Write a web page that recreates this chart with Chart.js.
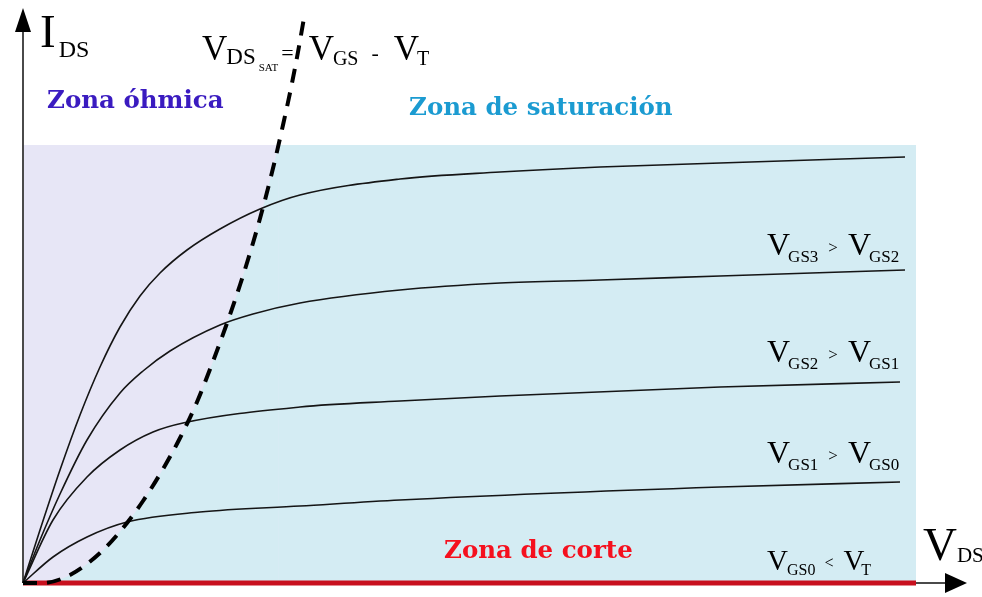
<!DOCTYPE html>
<html>
<head>
<meta charset="utf-8">
<script src="https://cdn.jsdelivr.net/npm/chart.js@4.4.1/dist/chart.umd.min.js"></script>
<style>
  html, body { margin: 0; padding: 0; background: #fff; }
</style>
</head>
<body>
<canvas id="chart" width="982" height="597"></canvas>
<script>
// Output characteristics of a MOSFET, I_DS vs V_DS (arbitrary units)
const curveVgs3 = [[0,0],[0.17,1.06],[0.37,2.26],[0.57,3.36],[0.77,4.32],[0.97,5.12],[1.17,5.74],[1.37,6.2],[1.64,6.66],[1.97,7.08],[2.37,7.48],[2.77,7.76],[3.77,8.08],[4.77,8.22],[5.77,8.32],[6.97,8.4],[8.82,8.52]];
const curveVgs2 = [[0,0],[0.17,0.86],[0.37,1.78],[0.64,2.86],[0.97,3.8],[1.2,4.24],[1.47,4.64],[1.97,5.16],[2.3,5.38],[2.77,5.6],[3.77,5.86],[4.77,6.0],[5.77,6.06],[6.97,6.14],[8.82,6.26]];
const curveVgs1 = [[0,0],[0.3,1.26],[0.64,2.12],[0.97,2.66],[1.3,3.02],[1.6,3.2],[2.77,3.52],[3.77,3.64],[4.77,3.74],[6.97,3.92],[8.77,4.02]];
const curveVgs0 = [[0,0],[0.3,0.52],[0.64,0.92],[1.04,1.22],[1.77,1.42],[2.77,1.54],[3.77,1.66],[6.97,1.92],[8.77,2.02]];
// V_DS,sat = V_GS - V_T boundary (dashed)
const satBoundary = [[0,0],[0.19,0],[0.47,0.16],[0.77,0.6],[1.0,1.1],[1.2,1.64],[1.4,2.28],[1.57,2.9],[1.74,3.62],[1.89,4.38],[2.03,5.14],[2.17,5.96],[2.3,6.8],[2.42,7.66],[2.52,8.46],[2.6,9.16],[2.68,9.9],[2.75,10.62],[2.82,11.42]];
// cut-off line (V_GS0 < V_T)
const cutoffLine = [[0,0],[8.93,0]];
// shaded zones
const zoneTop = 8.76;
const zoneRight = 8.93;
const ohmicRight = 2.555;

const xMax = 9.44;
const yMax = 11.5;

const pts = arr => arr.map(p => ({ x: p[0], y: p[1] }));

// part of the boundary below the top of the shaded area
const satFillPts = pts(satBoundary.filter(p => p[1] <= zoneTop)).concat([{ x: ohmicRight, y: zoneTop }]);

const curveStyle = {
    borderColor: "#151515",
    borderWidth: 1.6,
    pointRadius: 0,
    showLine: true,
    fill: false,
    cubicInterpolationMode: "monotone",
    clip: false,
    order: 2
};

const serif = "'Liberation Serif', 'Times New Roman', serif";
const zoneFont = "bold 24.5px 'DejaVu Serif', serif";

// draws a row of text pieces: [text, fontSize, dy, dx]
function drawRuns(ctx, x, y, parts) {
    let cx = x;
    parts.forEach(p => {
        ctx.font = p[1] + "px " + serif;
        cx += p[3] || 0;
        ctx.fillText(p[0], cx, y + (p[2] || 0));
        cx += ctx.measureText(p[0]).width;
    });
}

const axesPlugin = {
    id: "axes",
    beforeDatasetsDraw(chart) {
        const { ctx, chartArea: a } = chart;
        ctx.save();
        ctx.strokeStyle = "#4a4a4a";
        ctx.lineWidth = 2;
        ctx.beginPath();
        ctx.moveTo(a.left, a.bottom);
        ctx.lineTo(a.left, a.top + 20);
        ctx.moveTo(a.left, a.bottom);
        ctx.lineTo(a.right - 20, a.bottom);
        ctx.stroke();
        ctx.fillStyle = "#000";
        ctx.beginPath();
        ctx.moveTo(a.left, a.top);
        ctx.lineTo(a.left - 8, a.top + 24);
        ctx.lineTo(a.left + 8, a.top + 24);
        ctx.closePath();
        ctx.fill();
        ctx.beginPath();
        ctx.moveTo(a.right, a.bottom);
        ctx.lineTo(a.right - 22, a.bottom - 10);
        ctx.lineTo(a.right - 22, a.bottom + 10);
        ctx.closePath();
        ctx.fill();
        ctx.restore();
    },
    afterDraw(chart) {
        const { ctx } = chart;
        const sx = chart.scales.x, sy = chart.scales.y;
        const px = v => sx.getPixelForValue(v);
        const py = v => sy.getPixelForValue(v);
        ctx.save();
        ctx.textBaseline = "alphabetic";
        ctx.fillStyle = "#000";

        // axis titles
        drawRuns(ctx, px(0.17), py(10.72), [["I", 47], ["DS", 24, 10, 3]]);
        drawRuns(ctx, px(9.0), py(0.46), [["V", 47], ["DS", 21, 2, 0]]);

        // saturation boundary formula
        drawRuns(ctx, px(1.79), py(10.46), [
            ["V", 35], ["DS", 23, 4, -1], ["SAT", 11, 11, 3], ["=", 22, 0, 3],
            ["V", 35, 0, 15], ["GS", 20, 5, -1], ["-", 22, 0, 13], ["V", 35, 0, 15], ["T", 20, 5, -2]
        ]);

        // curve labels
        const lbl = (i, a, b, c) => drawRuns(ctx, px(7.44), py(i), [
            ["V", 32], [a, 17, 7, -2], [c, 17, -2, 10], ["V", 32, 0, 10], [b, 17, 7, -2]
        ]);
        lbl(6.56, "GS3", "GS2", ">");
        lbl(4.42, "GS2", "GS1", ">");
        lbl(2.4, "GS1", "GS0", ">");
        drawRuns(ctx, px(7.44), py(0.26), [
            ["V", 29], ["GS0", 16, 5, -1], ["<", 16, -2, 9], ["V", 29, 0, 10], ["T", 16, 5, -3]
        ]);

        // zone names
        ctx.font = zoneFont;
        ctx.fillStyle = "#3a1bc0";
        ctx.fillText("Zona óhmica", px(0.24), py(9.5));
        ctx.fillStyle = "#1b9bd1";
        ctx.fillText("Zona de saturación", px(3.86), py(9.36));
        ctx.fillStyle = "#f5101e";
        ctx.fillText("Zona de corte", px(4.21), py(0.5));
        ctx.restore();
    }
};

new Chart(document.getElementById("chart"), {
    type: "scatter",
    data: {
        datasets: [
            { data: pts(satBoundary), borderColor: "#000", borderWidth: 4, borderDash: [14, 10],
              borderCapStyle: "butt", pointRadius: 0, showLine: true, fill: false,
              cubicInterpolationMode: "monotone", clip: false, order: 0 },
            Object.assign({ data: pts(curveVgs3) }, curveStyle),
            Object.assign({ data: pts(curveVgs2) }, curveStyle),
            Object.assign({ data: pts(curveVgs1) }, curveStyle),
            Object.assign({ data: pts(curveVgs0) }, curveStyle),
            { data: pts(cutoffLine), borderColor: "#c8101e", borderWidth: 5, pointRadius: 0,
              showLine: true, fill: false, clip: false, order: 3 },
            // fills: blue saturation area, lavender ohmic area, blue again under the boundary
            { data: satFillPts, borderWidth: 0, pointRadius: 0, showLine: true,
              cubicInterpolationMode: "monotone", fill: "origin", backgroundColor: "#d4ecf3", order: 7 },
            { data: pts([[0, zoneTop], [ohmicRight, zoneTop]]), borderWidth: 0, pointRadius: 0,
              showLine: true, fill: "origin", backgroundColor: "#e7e6f6", order: 8 },
            { data: pts([[0, zoneTop], [zoneRight, zoneTop]]), borderWidth: 0, pointRadius: 0,
              showLine: true, fill: "origin", backgroundColor: "#d4ecf3", order: 9 }
        ]
    },
    options: {
        responsive: false,
        animation: false,
        layout: { padding: { left: 23, right: 15, top: 8, bottom: 14 } },
        scales: {
            x: { type: "linear", min: 0, max: xMax, display: false },
            y: { type: "linear", min: 0, max: yMax, display: false }
        },
        plugins: {
            legend: { display: false },
            tooltip: { enabled: false },
            filler: { drawTime: "beforeDatasetsDraw" }
        }
    },
    plugins: [axesPlugin]
});
</script>
</body>
</html>
